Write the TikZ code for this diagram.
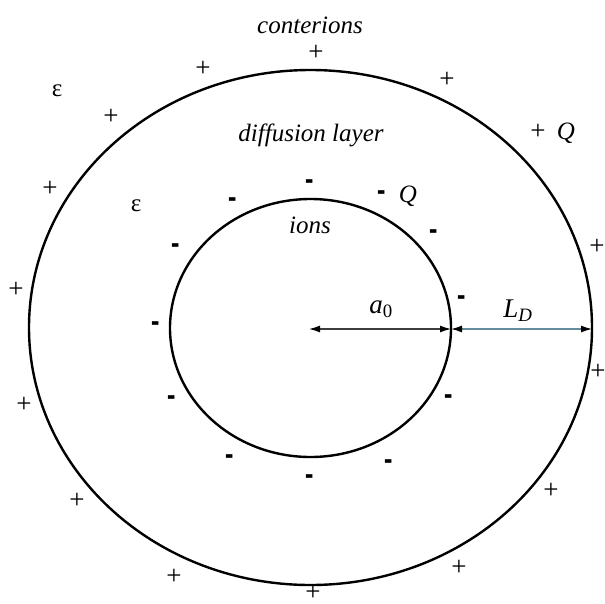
\documentclass[tikz,border=0pt]{standalone}
\usepackage{fontspec}
\setmainfont{Liberation Serif}
\usetikzlibrary{shapes.geometric,arrows.meta}
\definecolor{aline}{RGB}{60,60,60}
\definecolor{ldline}{RGB}{100,140,155}
\tikzset{
  shell/.style={ellipse, draw=black, line width=2.4pt, inner sep=0pt, outer sep=0pt},
  lbl/.style={font=\fontsize{25}{30}\selectfont\itshape, inner sep=0pt},
  eps/.style={font=\fontsize{25}{30}\selectfont, inner sep=0pt},
  plus/.style={font=\fontsize{27}{30}\selectfont, inner sep=0pt},
  minus/.style={font=\fontsize{25}{30}\selectfont\bfseries, inner sep=0pt},
  dim/.style={line width=1.3pt, {Latex[length=11pt,width=7pt,color=black]}-{Latex[length=11pt,width=7pt,color=black]}}
}
\begin{document}
\begin{tikzpicture}[x=1pt,y=-1pt]
\useasboundingbox (0,0) rectangle (605,603);
\fill[white] (0,0) rectangle (605,603);
% shells
\node[shell, minimum width=563pt, minimum height=515pt] (outer) at (310.5,327.5) {};
\node[shell, minimum width=281pt, minimum height=258pt] (inner) at (310.5,328) {};
\coordinate (c) at (309,329);
\coordinate (ie) at (451,329);
\coordinate (oe) at (592,329);
% dimension arrows
\draw[dim, draw=aline] (c) -- (ie);
\draw[dim, draw=ldline] (ie) -- (oe);
\node[lbl] (a0) at (381,309) {\fontsize{27}{30}\selectfont a\textsubscript{\upshape 0}};
\node[lbl] (ld) at (518,311) {\fontsize{27}{30}\selectfont L\textsubscript{D}};
% labels
\node[lbl] (conterions) at (310,25) {conterions};
\node[lbl] (diffusion) at (311,135) {diffusion layer};
\node[lbl] (ions) at (310,225) {ions};
\node[lbl] (qout) at (566,133) {Q};
\node[lbl] (qin) at (408,196) {Q};
\node[eps] (eps1) at (57,91) {ε};
\node[eps] (eps2) at (136,206) {ε};
% plus charges
\foreach \x/\y [count=\i] in {316/53, 203/69, 111/117, 50/189, 16/290, 24/405, 77/501, 174/577, 313/593, 459/568, 551/491, 598/372, 597/247, 538/132, 447/80}
  \node[plus] (p\i) at (\x,\y) {+};
% minus charges
\foreach \x/\y [count=\i] in {310/186, 233/204, 176/250, 156/328, 172/402, 230/461, 310/481, 389/466, 449/401, 462/302, 434/236, 382/197}
  \node[minus] (m\i) at (\x,\y) {\scalebox{1}[1.7]{-}};
\end{tikzpicture}
\end{document}
